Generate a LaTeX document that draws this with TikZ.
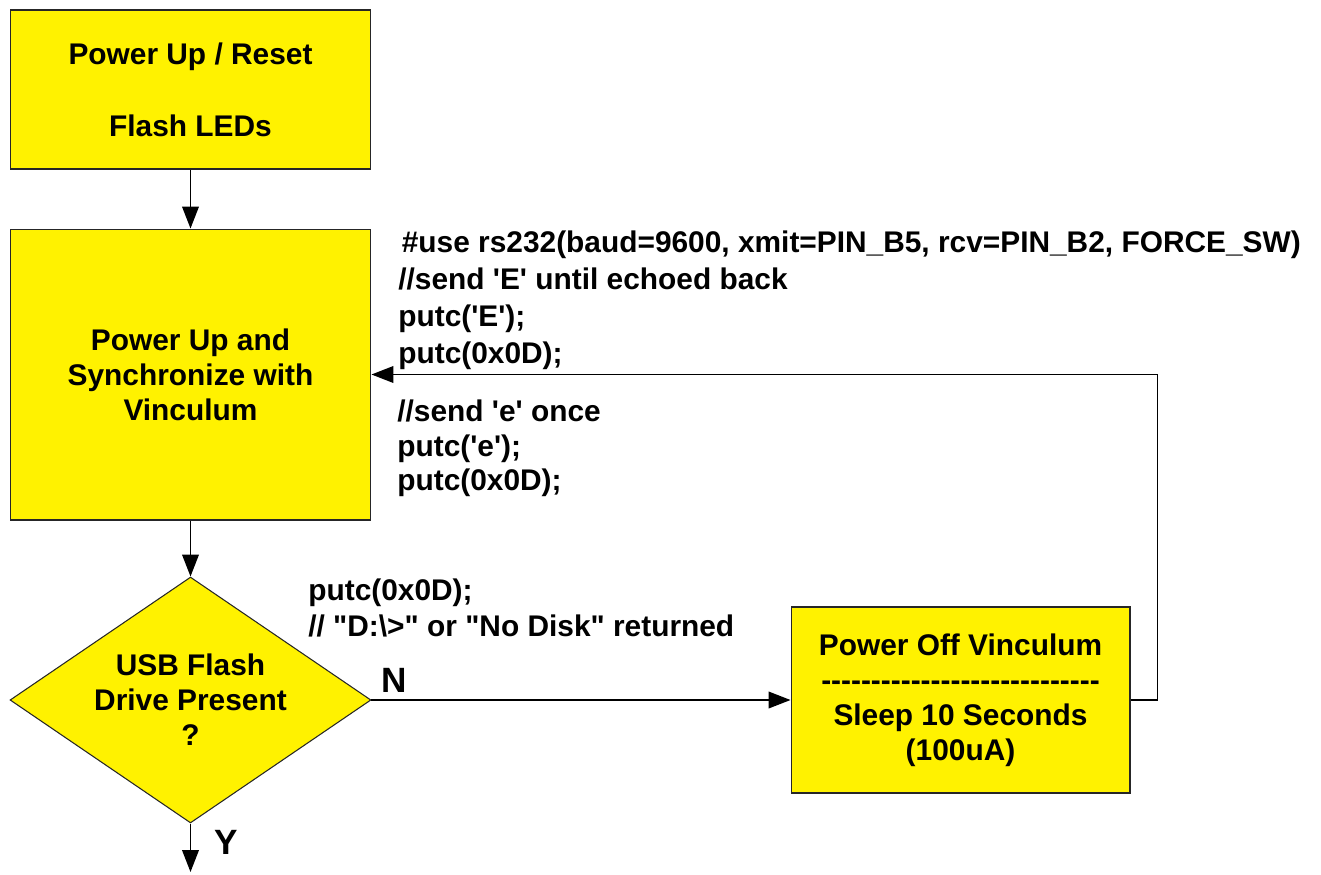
\documentclass[tikz,border=0pt]{standalone}
\usepackage{fontspec}
\setmainfont{Liberation Sans}[Ligatures=TeXOff]
\usetikzlibrary{shapes.geometric,arrows.meta}

\tikzset{
  stepbox/.style={draw=black!85, line width=0.6pt, fill=yellow, inner sep=0pt,
    align=center, font=\fontsize{17}{20}\selectfont\bfseries},
  decision/.style={stepbox, shape=diamond, aspect=1.467},
  codetext/.style={anchor=north west, inner sep=0pt, align=left,
    font=\fontsize{17}{21}\selectfont\bfseries},
  flow/.style={draw, line width=0.9pt, -{Triangle[length=12.5pt,width=9.5pt]}},
  branch/.style={inner sep=0pt, font=\fontsize{20}{24}\selectfont\bfseries},
}

\begin{document}
\begin{tikzpicture}[x=0.02cm, y=-0.02cm]
\useasboundingbox (0,0) rectangle (1321,875);
% boxes
\node[stepbox, minimum width=7.22cm, minimum height=3.18cm] (reset) at (190.5,89.5) {Power Up / Reset\\[21pt]Flash LEDs};
\node[stepbox, minimum width=7.22cm, minimum height=5.82cm] (sync) at (190.5,374.5) {Power Up and\\Synchronize with\\Vinculum};
\node[decision, minimum width=7.22cm, minimum height=4.92cm] (disk) at (190.5,700) {USB Flash\\Drive Present\\?};
\node[stepbox, minimum width=6.78cm, minimum height=3.72cm] (sleep) at (960.5,700) {Power Off Vinculum\\----------------------------\\Sleep 10 Seconds\\(100uA)};
% code notes
\node[codetext] (cmdsync) at (398,231) {\hspace*{2pt}\#use rs232(baud=9600, xmit=PIN\_B5, rcv=PIN\_B2, FORCE\_SW)\\//send 'E' until echoed back\\putc('E');\\putc(0x0D);};
\node[codetext, font=\fontsize{17}{19.6}\selectfont\bfseries] (cmdecho) at (397,400) {//send 'e' once\\putc('e');\\putc(0x0D);};
\node[codetext] (cmddisk) at (308,578) {putc(0x0D);\\// "D:\textbackslash>" or "No Disk" returned};
% connectors
\coordinate (out) at (190.5,872);
\draw[flow] (reset) -- (sync);
\draw[flow] (sync) -- (disk);
\draw[flow] (disk.south) -- (out) node[branch, pos=0.39, anchor=west, xshift=13pt] {Y};
\draw[flow] (disk.east) -- (sleep.west) node[branch, pos=0.053, anchor=south, yshift=4pt] {N};
\draw[flow] (sleep.east) -- ++(27,0) |- (sync.east);
\end{tikzpicture}
\end{document}
